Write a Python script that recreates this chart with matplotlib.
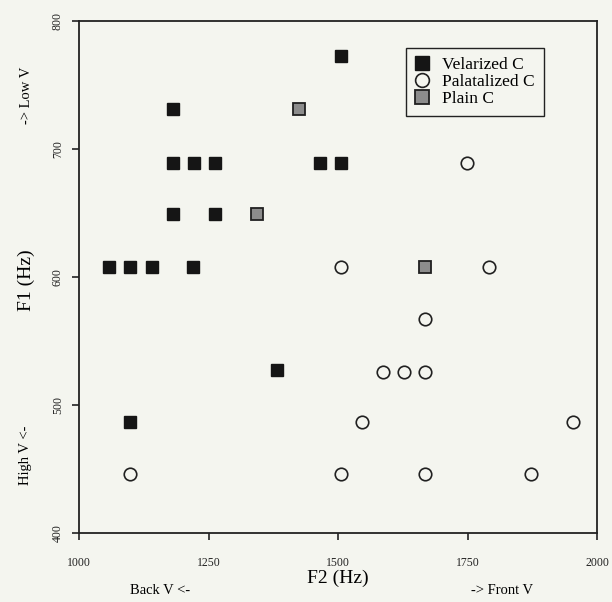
import matplotlib
matplotlib.use("Agg")
import matplotlib.pyplot as plt

plt.rcParams['font.family'] = ['Liberation Serif', 'DejaVu Serif']

# F2 / F1 values (Hz)
vel_f2 = [1505, 1182, 1182, 1222, 1262, 1465, 1505, 1182, 1262,
          1058, 1098, 1141, 1220, 1382, 1098]
vel_f1 = [773, 731, 689, 689, 689, 689, 689, 649, 649,
          608, 608, 608, 608, 527, 487]

pal_f2 = [1749, 1505, 1791, 1668, 1586, 1627, 1668, 1547, 1954,
          1098, 1505, 1668, 1872]
pal_f1 = [689, 608, 608, 567, 526, 526, 526, 487, 487,
          446, 446, 446, 446]

plain_f2 = [1424, 1343, 1668]
plain_f1 = [731, 649, 608]

xticks = [1000, 1250, 1500, 1750, 2000]
yticks = [400, 500, 600, 700, 800]

bg = '#f4f5ef'
fig = plt.figure(figsize=(6.12, 6.02), dpi=100, facecolor=bg)
ax = fig.add_axes([0.1294, 0.1146, 0.8461, 0.8505], facecolor=bg)

ax.plot(vel_f2, vel_f1, linestyle='none', marker='s', markersize=9.2,
        markerfacecolor='#151515', markeredgecolor='#151515', label='Velarized C')
ax.plot(pal_f2, pal_f1, linestyle='none', marker='o', markersize=9,
        markerfacecolor='none', markeredgecolor='#202020', markeredgewidth=1.2,
        label='Palatalized C')
ax.plot(plain_f2, plain_f1, linestyle='none', marker='s', markersize=9.2,
        markerfacecolor='#8c8c8c', markeredgecolor='#202020', markeredgewidth=1.3,
        label='Plain C')

ax.set_xlim(1000, 2000)
ax.set_ylim(400, 800)
ax.set_xticks(xticks)
ax.set_yticks(yticks)
ax.set_xticklabels([str(t) for t in xticks], fontsize=8.5)
ax.set_yticklabels([str(t) for t in yticks], fontsize=8.5, rotation=90, va='center')
ax.tick_params(axis='x', direction='out', length=5, width=1.2, pad=12, colors='#222222')
ax.tick_params(axis='y', direction='out', length=5, width=1.2, pad=6, colors='#222222')
for s in ax.spines.values():
    s.set_linewidth(1.3)
    s.set_color('#222222')

leg = ax.legend(loc='upper left', bbox_to_anchor=(0.631, 0.947), fontsize=12.5,
                frameon=True, fancybox=False, edgecolor='#222222', facecolor=bg,
                framealpha=1, handlelength=0.9, handletextpad=0.7,
                labelspacing=0.05, borderpad=0.5, borderaxespad=0,
                markerscale=1.1)
leg.get_frame().set_linewidth(1.0)

W, H = 612, 602
fig.text(338 / W, 1 - 578 / H, 'F2 (Hz)', fontsize=14, ha='center', va='center')
fig.text(160 / W, 1 - 590 / H, 'Back V <-', fontsize=10.5, ha='center', va='center')
fig.text(502 / W, 1 - 591 / H, '-> Front V', fontsize=10.5, ha='center', va='center')
fig.text(26 / W, 1 - 280 / H, 'F1 (Hz)', fontsize=14, ha='center', va='center', rotation=90)
fig.text(26 / W, 1 - 95 / H, '-> Low V', fontsize=10.5, ha='center', va='center', rotation=90)
fig.text(26 / W, 1 - 455 / H, 'High V <-', fontsize=10.5, ha='center', va='center', rotation=90)

fig.savefig('out.png', dpi=100, facecolor=bg)
